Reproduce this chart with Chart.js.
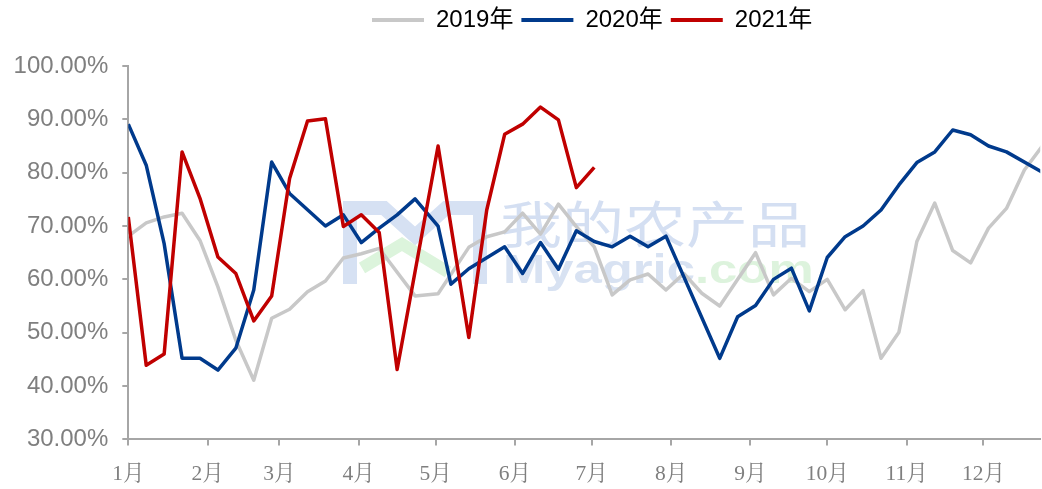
<!DOCTYPE html>
<html>
<head>
<meta charset="utf-8">
<script src="https://cdn.jsdelivr.net/npm/chart.js@4.4.1/dist/chart.umd.min.js"></script>
<style>
  html, body { margin: 0; padding: 0; background: #fff; overflow: hidden; }
  #wrap { width: 1042px; height: 489px; position: relative; }
</style>
</head>
<body>
<div id="wrap"><canvas id="c"></canvas></div>
<script>
// ---------------- data ----------------
const seriesNames = ['2019年', '2020年', '2021年'];
const monthLabels = ['1月','2月','3月','4月','5月','6月','7月','8月','9月','10月','11月','12月'];
const monthStartDays = [0, 31, 59, 90, 120, 151, 181, 212, 243, 273, 304, 334];
const yTickValues = [30, 40, 50, 60, 70, 80, 90, 100];

// observation dates (day of year) shared by the three series
const weekDays = [0, 7, 14, 21, 28, 35, 42, 49, 56, 63, 70, 77, 84, 91, 98, 105, 112,
  121,
  126, 133, 140, 147, 154, 161, 168, 175, 182, 189, 196, 203, 210, 217, 224, 231,
  238, 245, 252, 259, 266, 273, 280, 287, 294, 301, 308, 315, 322, 329, 336, 343, 350, 357];

const values2019 = [68.1, 70.6, 71.7, 72.4, 67.3, 58.6, 48.6, 41.1, 52.7, 54.4, 57.7, 59.7, 64.0, 64.8, 65.8, null, 56.9,
  57.3,
  null, 66.0, 68.0, 68.9, 72.4, 68.5, 74.1, 69.9, 66.1, 57.1, 59.9, 61.0, 58.0, 61.1, 57.4, 55.0,
  null, 65.0, 57.1, 60.2, 57.7, 60.0, 54.3, 57.9, 45.2, 50.1, 67.1, 74.3, 65.4, 63.1, 69.6, 73.3, 80.5, 85.0];

const values2020 = [89.1, 81.4, 66.7, 45.2, 45.2, 43.0, 47.1, 58.0, 82.0, 76.1, null, 70.0, 72.1, 66.9, 69.6, 72.1, 75.1,
  70.0,
  59.1, 62.0, null, 66.1, 61.1, 66.9, 61.9, 69.1, 67.1, 66.1, 68.1, 66.1, 68.1, null, null, 45.2,
  53.0, 55.1, 60.0, 62.1, 54.1, 64.1, 68.0, 70.0, 73.0, 77.7, 81.9, 83.9, 88.0, 87.1, 85.0, 83.9, null, 80.1];

const values2021 = [71.7, 43.9, 46.0, 83.9, 75.2, 64.2, 61.1, 52.2, 56.9, 78.9, 89.7, 90.1, 69.9, 72.1, 68.8, 43.1, null,
  85.0,
  null, 49.1, 73.0, 87.2, 89.1, 92.3, 89.9, 77.2, 81.0];

// ---------------- styles / layout ----------------
const colors = ['#c8c8c8', '#003a8c', '#c00000'];
const target = { left: 128.3, top: 66, right: 1042, bottom: 439.4 };
const xMaxDay = 356.2;

function toPoints(vals) {
  return vals.map((v, i) => ({ x: weekDays[i], y: v }));
}

const watermark = {
  id: 'watermark',
  beforeDatasetsDraw(chart) {
    const ctx = chart.ctx;
    ctx.save();
    ctx.lineJoin = 'miter';
    ctx.lineCap = 'butt';
    ctx.strokeStyle = '#d6e1f3';
    ctx.lineWidth = 14;
    ctx.beginPath();
    ctx.moveTo(350, 284); ctx.lineTo(350, 208); ctx.lineTo(384, 208);
    ctx.lineTo(415, 236); ctx.lineTo(446, 208); ctx.lineTo(480, 208); ctx.lineTo(480, 284);
    ctx.stroke();
    ctx.strokeStyle = '#dcf4dc';
    ctx.lineWidth = 12;
    ctx.beginPath();
    ctx.moveTo(362, 268); ctx.lineTo(402, 244); ctx.lineTo(448, 272);
    ctx.stroke();

    ctx.textBaseline = 'alphabetic';
    ctx.textAlign = 'left';
    ctx.save();
    ctx.translate(500, 243);
    ctx.scale(1.24, 1);
    ctx.fillStyle = '#d4dff2';
    ctx.font = '50px "Noto Sans CJK SC", sans-serif';
    ctx.fillText('我的农产品', 0, 0);
    ctx.restore();

    ctx.save();
    ctx.translate(503, 283);
    ctx.scale(1.27, 1);
    ctx.font = 'bold 40px "Liberation Sans", Arial, sans-serif';
    ctx.fillStyle = '#d8e2f2';
    ctx.fillText('Myagric', 0, 0);
    const w = ctx.measureText('Myagric').width;
    ctx.fillStyle = '#ddf3dd';
    ctx.fillText('.com', w, 0);
    ctx.restore();
    ctx.restore();
  }
};

const legendPlace = {
  id: 'legendPlace',
  afterLayout(chart) {
    const lg = chart.legend;
    if (!lg) return;
    const pad = lg.options.labels.padding;
    const dx = (372 - pad) - lg.left;
    lg.left += dx; lg.right += dx;
    const dy = (20 - 12 - pad) - lg.top;
    lg.top += dy; lg.bottom += dy;
  }
};

const cfg = {
  type: 'line',
  data: {
    datasets: [
      { label: seriesNames[0], data: toPoints(values2019), borderColor: colors[0], backgroundColor: colors[0], order: 3 },
      { label: seriesNames[1], data: toPoints(values2020), borderColor: colors[1], backgroundColor: colors[1], order: 2 },
      { label: seriesNames[2], data: toPoints(values2021), borderColor: colors[2], backgroundColor: colors[2], order: 1 }
    ]
  },
  options: {
    responsive: true,
    maintainAspectRatio: false,
    animation: false,
    devicePixelRatio: 1,
    spanGaps: true,
    layout: { padding: { left: 14, top: 0, right: 0, bottom: 0 } },
    elements: {
      point: { radius: 0, hoverRadius: 0, borderWidth: 4 },
      line: { borderWidth: 3.5, tension: 0, borderJoinStyle: 'round', borderCapStyle: 'butt', fill: false }
    },
    plugins: {
      tooltip: { enabled: false },
      legend: {
        display: true,
        position: 'top',
        align: 'start',
        labels: {
          usePointStyle: true,
          pointStyle: 'line',
          pointStyleWidth: 52,
          padding: 8,
          color: '#000000',
          font: { family: "'Liberation Sans', 'Noto Sans CJK SC', Arial, sans-serif", size: 24 },
          sort: (a, b) => a.datasetIndex - b.datasetIndex
        }
      }
    },
    scales: {
      x: {
        type: 'linear',
        min: 0,
        max: xMaxDay,
        afterBuildTicks: (axis) => { axis.ticks = monthStartDays.map(v => ({ value: v })); },
        grid: { drawOnChartArea: false, drawTicks: true, tickLength: 6, color: '#a6a6a6', lineWidth: 2 },
        border: { display: true, color: '#a6a6a6', width: 2 },
        ticks: {
          autoSkip: false,
          maxRotation: 0,
          minRotation: 0,
          padding: 16,
          color: '#7f7f7f',
          font: { family: "'Liberation Serif', 'Noto Serif CJK SC', 'Noto Sans CJK SC', serif", size: 21.5 },
          callback: (v) => { const i = monthStartDays.indexOf(v); return i >= 0 ? monthLabels[i] : ''; }
        }
      },
      y: {
        type: 'linear',
        min: 30,
        max: 100,
        afterBuildTicks: (axis) => { axis.ticks = yTickValues.map(v => ({ value: v })); },
        grid: { drawOnChartArea: false, drawTicks: true, tickLength: 6, color: '#a6a6a6', lineWidth: 2 },
        border: { display: true, color: '#a6a6a6', width: 2 },
        ticks: {
          padding: 14,
          color: '#7f7f7f',
          font: { family: "'Liberation Sans', Arial, sans-serif", size: 24 },
          callback: (v) => v.toFixed(2) + '%'
        }
      }
    }
  },
  plugins: [watermark, legendPlace]
};

const chart = new Chart(document.getElementById('c'), cfg);
// fit the plot area to the reference frame
for (let k = 0; k < 2; k++) {
  const a = chart.chartArea;
  const p = chart.options.layout.padding;
  p.left += target.left - a.left;
  p.top += target.top - a.top;
  p.bottom += a.bottom - target.bottom;
  p.right += a.right - target.right;
  chart.update();
}
</script>
</body>
</html>
